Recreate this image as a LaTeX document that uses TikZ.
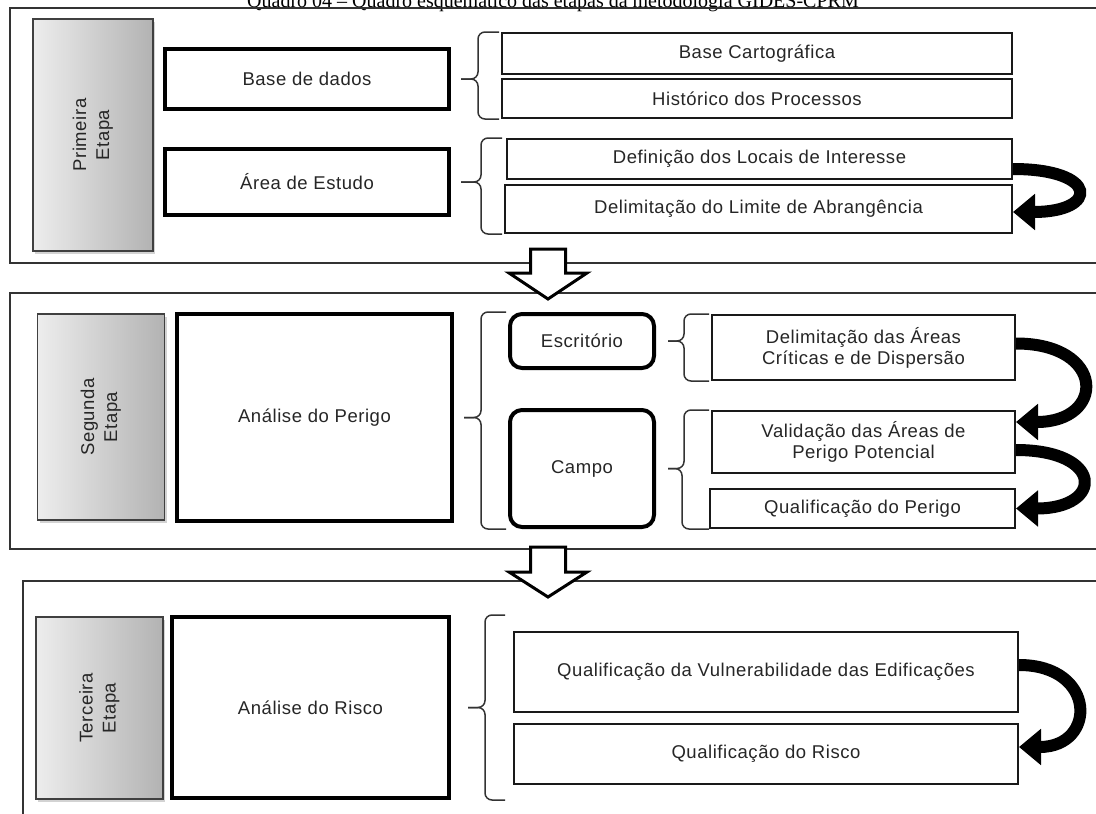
\documentclass[tikz,border=0pt]{standalone}
\usepackage{fontspec}
\setmainfont{Liberation Sans}[LetterSpace=3]
\newfontfamily\titlefont{Liberation Serif}
\usetikzlibrary{arrows.meta,shadows}

\begin{document}
\begin{tikzpicture}[x=1pt,y=-1pt,
	every node/.style={font=\fontsize{18.5}{21}\selectfont,text=black!85,align=center,inner sep=0pt},
	etapa/.style={draw=black!80,line width=1.5pt},
	fase/.style={draw=black!75,line width=1.2pt,left color=black!7,right color=black!30,drop shadow={opacity=0.35,shadow xshift=2pt,shadow yshift=-3pt}},
	grupo/.style={draw=black,line width=4pt,fill=white},
	meio/.style={draw=black,line width=4pt,rounded corners=12pt,fill=white},
	item/.style={draw=black!90,line width=2pt,fill=white},
	chave/.style={draw=black!80,line width=1.5pt,rounded corners=7pt},
	curva/.style={line width=12pt,-{Triangle[length=22pt,width=35pt]}},
	seta/.style={draw=black,line width=3pt,fill=white,line join=miter}]
	\useasboundingbox (0,0) rectangle (1096,814);
	\clip (0,0) rectangle (1096,814);

	\node[font=\titlefont\fontsize{20}{22}\selectfont,text=black,anchor=base] (titulo) at (553,7) {Quadro 04 – Quadro esquemático das etapas da metodologia GIDES-CPRM};

	\node[etapa,minimum width=1100pt,minimum height=255pt] (etapa1) at (560,135.5) {};
	\node[etapa,minimum width=1100pt,minimum height=256pt] (etapa2) at (560,421) {};
	\node[etapa,minimum width=1087pt,minimum height=249pt] (etapa3) at (566.5,705.5) {};

	\node[fase,minimum width=120pt,minimum height=232pt] (primeira) at (93,135) {\rotatebox{90}{\fontsize{18.5}{23}\selectfont\begin{tabular}{@{}c@{}}Primeira\\Etapa\end{tabular}}};
	\node[fase,minimum width=127pt,minimum height=206pt] (segunda) at (101,417) {\rotatebox{90}{\fontsize{18.5}{23}\selectfont\begin{tabular}{@{}c@{}}Segunda\\Etapa\end{tabular}}};
	\node[fase,minimum width=127pt,minimum height=182pt] (terceira) at (99.5,708) {\rotatebox{90}{\fontsize{18.5}{23}\selectfont\begin{tabular}{@{}c@{}}Terceira\\Etapa\end{tabular}}};

	\node[grupo,minimum width=284pt,minimum height=60pt] (dados) at (307,79) {Base de dados};
	\node[grupo,minimum width=284pt,minimum height=66pt] (estudo) at (307,182) {Área de Estudo};
	\node[item,minimum width=510pt,minimum height=41pt] (cartografica) at (757,53.5) {Base Cartográfica};
	\node[item,minimum width=510pt,minimum height=39pt] (historico) at (757,98.5) {Histórico dos Processos};
	\node[item,minimum width=505pt,minimum height=40pt] (locais) at (759.5,159) {Definição dos Locais de Interesse};
	\node[item,minimum width=507pt,minimum height=48pt] (limite) at (758.5,209) {Delimitação do Limite de Abrangência};

	\node[grupo,minimum width=275pt,minimum height=207pt] (perigo) at (314.5,417.5) {Análise do Perigo};
	\node[meio,minimum width=144pt,minimum height=54pt] (escritorio) at (582,341) {Escritório};
	\node[meio,minimum width=144pt,minimum height=117pt] (campo) at (582,468.5) {Campo};
	\node[item,minimum width=303pt,minimum height=65pt] (criticas) at (863.5,347.5) {Delimitação das Áreas\\Críticas e de Dispersão};
	\node[item,minimum width=303pt,minimum height=62pt] (validacao) at (863.5,442) {Validação das Áreas de\\Perigo Potencial};
	\node[item,minimum width=305pt,minimum height=39pt] (qualperigo) at (862.5,508.5) {Qualificação do Perigo};

	\node[grupo,minimum width=277pt,minimum height=181pt] (risco) at (310.5,707.5) {Análise do Risco};
	\node[item,minimum width=504pt,minimum height=80pt] (vulnerab) at (766,672) {Qualificação da Vulnerabilidade das Edificações};
	\node[item,minimum width=504pt,minimum height=60pt] (qualrisco) at (766,754) {Qualificação do Risco};

	\draw[chave] ([xshift=-2pt]cartografica.north west) -- ++(-21,0) |- ([xshift=10pt]dados.east);
	\draw[chave] ([xshift=-2pt]historico.south west) -- ++(-21,0) |- ([xshift=10pt]dados.east);
	\draw[chave] ([xshift=-4pt]locais.north west) -- ++(-21,0) |- ([xshift=10pt]estudo.east);
	\draw[chave] ([xshift=-2pt]limite.south west) -- ++(-21,0) |- ([xshift=10pt]estudo.east);
	\draw[chave] ([xshift=-2pt]escritorio.north west) -- ++(-25,0) |- ([xshift=10pt]perigo.east);
	\draw[chave] ([xshift=-2pt]campo.south west) -- ++(-25,0) |- ([xshift=10pt]perigo.east);
	\draw[chave] ([xshift=-2pt]criticas.north west) -- ++(-25,0) |- ([xshift=12pt]escritorio.east);
	\draw[chave] ([xshift=-2pt]criticas.south west) -- ++(-25,0) |- ([xshift=12pt]escritorio.east);
	\draw[chave] ([xshift=-2pt]validacao.north west) -- ++(-25,0) |- ([xshift=12pt]campo.east);
	\draw[chave] ([xshift=0pt]qualperigo.south west) -- ++(-27,0) |- ([xshift=12pt]campo.east);
	\draw[chave] ([xshift=54pt]risco.north east) -- ++(-20,0) |- ([xshift=17pt]risco.east);
	\draw[chave] ([xshift=54pt]risco.south east) -- ++(-20,0) |- ([xshift=17pt]risco.east);

	\draw[curva] ([yshift=-10pt]locais.east) .. controls +(86,0) and +(86,0) .. ([yshift=-3pt]limite.east);
	\draw[curva] ([yshift=4pt]criticas.east) .. controls +(90,0) and +(90,0) .. ([yshift=20pt]validacao.east);
	\draw[curva] ([yshift=-8pt]validacao.east) .. controls +(88,0) and +(88,0) .. (qualperigo.east);
	\draw[curva] ([yshift=7pt]vulnerab.east) .. controls +(78,0) and +(78,0) .. ([yshift=7pt]qualrisco.east);

	\draw[seta] (530.5,249) -- (565.5,249) -- (565.5,273) -- (587,273) -- (548,299) -- (509,273) -- (530.5,273) -- cycle;
	\draw[seta] (530.5,547) -- (565.5,547) -- (565.5,572) -- (587,572) -- (548,597) -- (509,572) -- (530.5,572) -- cycle;
\end{tikzpicture}
\end{document}
